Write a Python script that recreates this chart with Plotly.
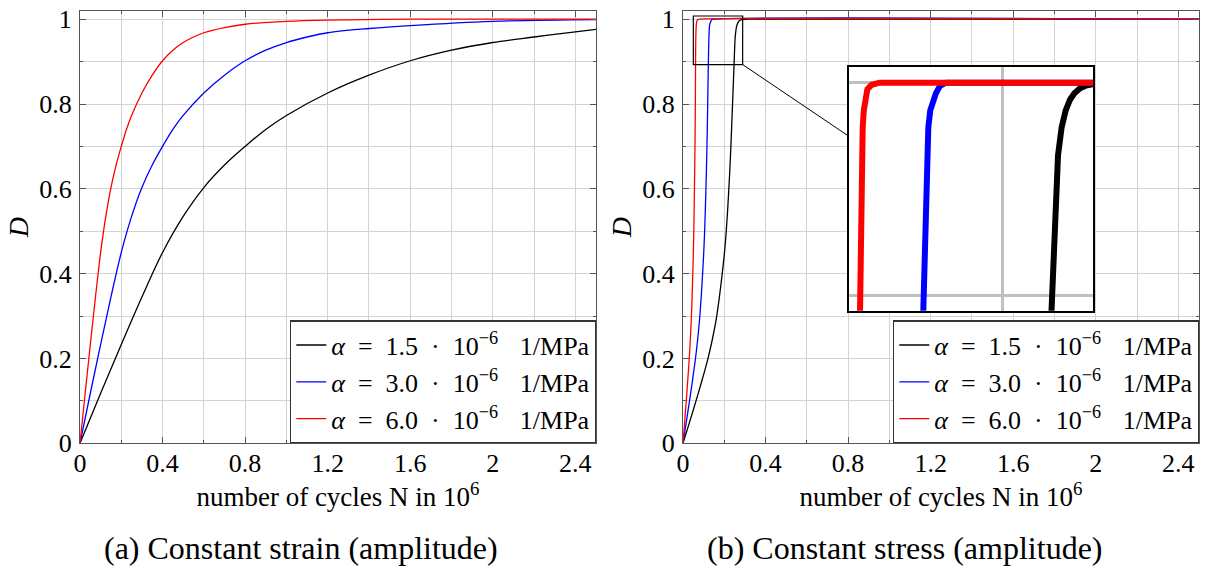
import plotly.graph_objects as go

W, H = 1205, 566
FONT = "Liberation Serif"
AXC = "#555555"
GRIDC = "#d3d3d3"

# ---------------- data ----------------
S2, S3 = "\u2002", "\u2004"
legend_labels = [
    f"<i>α</i>{S2}={S2}1.5{S2}·{S2}10<sup>−6</sup>{S2}{S3}1/MPa",
    f"<i>α</i>{S2}={S2}3.0{S2}·{S2}10<sup>−6</sup>{S2}{S3}1/MPa",
    f"<i>α</i>{S2}={S2}6.0{S2}·{S2}10<sup>−6</sup>{S2}{S3}1/MPa",
]
colors = ["#000000", "#0000ff", "#ff0000"]

# (a) constant strain amplitude
strain_black_N = [0, 0.1, 0.2, 0.3, 0.4, 0.5, 0.6, 0.7, 0.8, 0.9, 1.0, 1.2, 1.4, 1.6, 1.8, 2.0, 2.2, 2.4, 2.5]
strain_black_D = [0, 0.118, 0.233, 0.345, 0.45, 0.535, 0.603, 0.656, 0.70, 0.74, 0.773, 0.826, 0.868,
                  0.902, 0.927, 0.945, 0.958, 0.970, 0.976]
strain_blue_N = [0, 0.05, 0.1, 0.15, 0.2, 0.25, 0.3, 0.35, 0.4, 0.45, 0.5, 0.6, 0.7, 0.8, 0.9, 1.0,
                 1.1, 1.2, 1.4, 1.6, 2.0, 2.5]
strain_blue_D = [0, 0.118, 0.233, 0.345, 0.45, 0.535, 0.603, 0.656, 0.70, 0.74, 0.773, 0.826, 0.868,
                 0.902, 0.927, 0.945, 0.958, 0.968, 0.978, 0.985, 0.995, 0.999]
strain_red_N = [0, 0.025, 0.05, 0.075, 0.1, 0.125, 0.15, 0.175, 0.2, 0.225, 0.25, 0.3, 0.35, 0.4,
                0.45, 0.5, 0.55, 0.6, 0.7, 0.8, 1.0, 1.2, 1.6, 2.0, 2.5]
strain_red_D = [0, 0.118, 0.233, 0.345, 0.45, 0.535, 0.603, 0.656, 0.70, 0.74, 0.773, 0.826, 0.868,
                0.902, 0.927, 0.945, 0.958, 0.968, 0.98, 0.988, 0.995, 0.998, 1.0, 1.0, 1.0]

# (b) constant stress amplitude
stress_black_N = [0, 0.03, 0.06, 0.09, 0.12, 0.14, 0.16, 0.175, 0.19, 0.2, 0.208, 0.215, 0.221, 0.227,
                  0.232, 0.236, 0.240, 0.244, 0.2474, 0.2516, 0.2545, 0.258, 0.262, 0.2662, 0.2705,
                  0.276, 0.282, 0.289, 0.32, 2.5]
stress_black_D = [0, 0.047, 0.095, 0.145, 0.198, 0.24, 0.29, 0.34, 0.40, 0.445, 0.49, 0.54, 0.59, 0.645,
                  0.70, 0.75, 0.80, 0.85, 0.893, 0.948, 0.966, 0.979, 0.987, 0.992, 0.995,
                  0.9974, 0.9987, 0.9993, 1.0, 1.0]
stress_blue_N = [0, 0.015, 0.03, 0.045, 0.06, 0.07, 0.08, 0.0875, 0.095, 0.1, 0.104, 0.1075, 0.1105,
                 0.1135, 0.116, 0.118, 0.1197, 0.1213, 0.1227, 0.125, 0.1263, 0.1276, 0.1295, 0.132,
                 0.135, 0.139, 0.145, 2.5]
stress_blue_D = [0, 0.047, 0.095, 0.145, 0.198, 0.24, 0.29, 0.34, 0.40, 0.445, 0.49, 0.54, 0.59,
                 0.645, 0.70, 0.75, 0.80, 0.85, 0.893, 0.948, 0.966, 0.979, 0.987, 0.992,
                 0.995, 0.9985, 1.0, 1.0]
stress_red_N = [0, 0.0075, 0.015, 0.0225, 0.03, 0.035, 0.04, 0.0437, 0.0475, 0.05, 0.052, 0.0537, 0.0552,
                0.0567, 0.058, 0.059, 0.0598, 0.0604, 0.0608, 0.0617, 0.0625, 0.0634, 0.0645, 0.0657,
                0.068, 0.0722, 0.08, 2.5]
stress_red_D = [0, 0.047, 0.095, 0.145, 0.198, 0.24, 0.29, 0.34, 0.40, 0.445, 0.49, 0.54, 0.59,
                0.645, 0.70, 0.75, 0.80, 0.85, 0.893, 0.948, 0.966, 0.979, 0.987, 0.992,
                0.997, 0.999, 1.0, 1.0]

x_tick_vals = [0, 0.4, 0.8, 1.2, 1.6, 2.0, 2.4]
x_tick_text = ["0", "0.4", "0.8", "1.2", "1.6", "2", "2.4"]
y_tick_vals = [0, 0.2, 0.4, 0.6, 0.8, 1.0]
y_tick_text = ["0", "0.2", "0.4", "0.6", "0.8", "1"]

x_range = [0, 2.5]
y_range = [0, 1.02]
inset_x_range = [0.05, 0.289]
inset_y_range = [0.893, 1.0075]

captions = ["(a) Constant strain (amplitude)", "(b) Constant stress (amplitude)"]
x_title = "number of cycles N in 10<sup>6</sup>"

# ---------------- layout geometry (pixels -> paper) ----------------
def px(x):
    return x / W

def py(y):
    return (H - y) / H

dom_y = [py(443.3), py(10.7)]
dom_x1 = [px(80), px(596)]
dom_x2 = [px(683), px(1199)]
inset_dx = [px(849), px(1093.3)]
inset_dy = [py(310.7), py(66.7)]
caption_x = [px(301), px(904)]

fig = go.Figure()

strain = [(strain_black_N, strain_black_D), (strain_blue_N, strain_blue_D), (strain_red_N, strain_red_D)]
stress = [(stress_black_N, stress_black_D), (stress_blue_N, stress_blue_D), (stress_red_N, stress_red_D)]

for (n, d), c, lab in zip(strain, colors, legend_labels):
    fig.add_trace(go.Scatter(x=n, y=d, mode="lines", name=lab,
                             line=dict(color=c, width=1.3, shape="spline", smoothing=1.0),
                             xaxis="x", yaxis="y", legend="legend"))
for (n, d), c, lab in zip(stress, colors, legend_labels):
    fig.add_trace(go.Scatter(x=n, y=d, mode="lines", name=lab,
                             line=dict(color=c, width=1.3, shape="spline", smoothing=0.7),
                             xaxis="x2", yaxis="y2", legend="legend2"))
for (n, d), c, lab in zip(stress, colors, legend_labels):
    fig.add_trace(go.Scatter(x=n, y=d, mode="lines", name=lab, showlegend=False,
                             line=dict(color=c, width=6),
                             xaxis="x3", yaxis="y3"))

tickfont = dict(family=FONT, size=26, color="#000")

def main_x(domain, anchor):
    return dict(domain=domain, anchor=anchor, range=x_range, tickvals=x_tick_vals, ticktext=x_tick_text,
                ticks="inside", ticklen=6, tickwidth=1, tickcolor=AXC,
                showline=True, linecolor=AXC, linewidth=1.3, mirror="ticks",
                showgrid=True, gridcolor=GRIDC, gridwidth=1, zeroline=False,
                minor=dict(dtick=0.2, tick0=0, showgrid=True, gridcolor=GRIDC, gridwidth=1,
                           ticks="inside", ticklen=3, tickcolor=AXC),
                tickfont=tickfont, ticklabelstandoff=-4, automargin=False,
                title=dict(text=x_title, font=dict(family=FONT, size=27, color="#000"), standoff=0))

def main_y(domain, anchor):
    return dict(domain=domain, anchor=anchor, range=y_range, tickvals=y_tick_vals, ticktext=y_tick_text,
                ticks="inside", ticklen=6, tickwidth=1, tickcolor=AXC,
                showline=True, linecolor=AXC, linewidth=1.3, mirror="ticks",
                showgrid=True, gridcolor=GRIDC, gridwidth=1, zeroline=False,
                minor=dict(dtick=0.1, tick0=0, showgrid=True, gridcolor=GRIDC, gridwidth=1,
                           ticks="inside", ticklen=3, tickcolor=AXC),
                tickfont=tickfont, ticklabelstandoff=2, automargin=False,
                title=dict(text="<i>D</i>", font=dict(family=FONT, size=28, color="#000"), standoff=2))

legend_common = dict(bgcolor="#ffffff", bordercolor="#333333", borderwidth=1.3,
                     font=dict(family=FONT, size=26, color="#000"),
                     yanchor="bottom", xanchor="right", tracegroupgap=0, itemwidth=30)

fig.update_layout(
    width=W, height=H, margin=dict(l=0, r=0, t=0, b=0, autoexpand=False),
    paper_bgcolor="white", plot_bgcolor="white",
    font=dict(family=FONT, size=25, color="#000"),
    xaxis=main_x(dom_x1, "y"), yaxis=main_y(dom_y, "x"),
    xaxis2=main_x(dom_x2, "y2"), yaxis2=main_y(dom_y, "x2"),
    xaxis3=dict(domain=inset_dx, anchor="y3", range=inset_x_range, dtick=0.2, tick0=0, automargin=False,
                showticklabels=False, ticks="", showline=True, mirror=True, linecolor="#000", linewidth=1.5,
                showgrid=True, gridcolor="#c0c0c0", gridwidth=3, zeroline=False),
    yaxis3=dict(domain=inset_dy, anchor="x3", range=inset_y_range, dtick=0.1, tick0=0, automargin=False,
                showticklabels=False, ticks="", showline=True, mirror=True, linecolor="#000", linewidth=1.5,
                showgrid=True, gridcolor="#c0c0c0", gridwidth=3, zeroline=False),
    legend=dict(x=dom_x1[1], y=dom_y[0], **legend_common),
    legend2=dict(x=dom_x2[1], y=dom_y[0], **legend_common),
    showlegend=True,
)

# spy rectangle on the right plot
fig.add_shape(type="rect", xref="x2", yref="y2",
              x0=inset_x_range[0], x1=inset_x_range[1], y0=inset_y_range[0], y1=inset_y_range[1],
              line=dict(color="#000", width=1.2), layer="above")

# connector line (paper coords)
def x2_to_paper(v):
    return dom_x2[0] + (v - x_range[0]) / (x_range[1] - x_range[0]) * (dom_x2[1] - dom_x2[0])

def y2_to_paper(v):
    return dom_y[0] + (v - y_range[0]) / (y_range[1] - y_range[0]) * (dom_y[1] - dom_y[0])

fig.add_shape(type="line", xref="paper", yref="paper",
              x0=x2_to_paper(inset_x_range[1]), y0=y2_to_paper(inset_y_range[0]),
              x1=inset_dx[0], y1=py(136.4), line=dict(color="#000", width=1), layer="above")

for cap, cx in zip(captions, caption_x):
    fig.add_annotation(text=cap, xref="paper", yref="paper", x=cx, y=py(548),
                       xanchor="center", yanchor="middle", showarrow=False,
                       font=dict(family=FONT, size=32, color="#000"))

fig.write_html("out.html", config={"displayModeBar": False},
               post_script="document.body.style.margin='0px';document.body.style.overflow='hidden';")
